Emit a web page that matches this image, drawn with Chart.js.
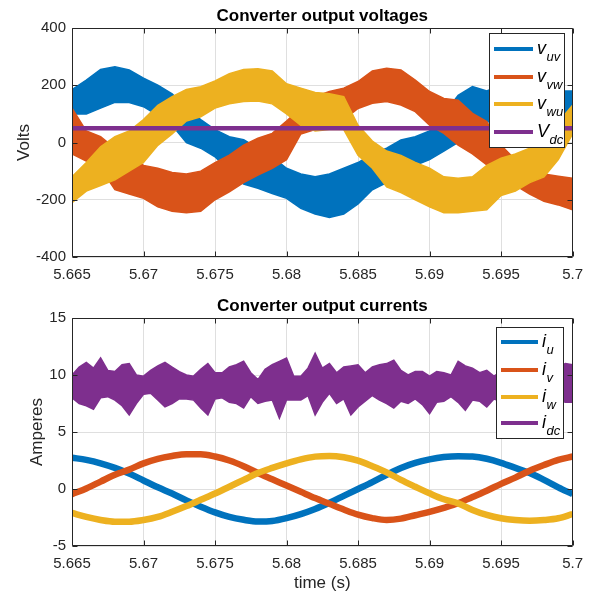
<!DOCTYPE html>
<html><head><meta charset="utf-8">
<script src="https://cdn.jsdelivr.net/npm/chart.js@4/dist/chart.umd.min.js"></script>
<style>
html,body{margin:0;padding:0;background:#fff;}
#wrap{position:relative;width:592px;height:593px;}
.c{position:absolute;left:0;width:592px;}
#c1{top:0;height:296px;}
#c2{top:296px;height:297px;}
</style></head><body>
<div id="wrap"><div class="c" id="c1"><canvas id="top"></canvas></div><div class="c" id="c2"><canvas id="bot"></canvas></div></div>
<script>
// ---- data (time origin 5.665 s) ----
const T0 = 5.665;
const V_STEP = 0.001;   // voltage envelopes sampled every 1 ms
const I_STEP = 0.001;   // phase currents every 1 ms
const IDC_STEP = 0.0005; // dc current envelope every 0.5 ms

const vuvUpper = [185,218,255,265,253,225,200,170,120,80, 45,20,10,-20,-50,-90,-110,-120,-110,-90, -70,-40,-20,9,20,40,100,165,195,180, 200,195,190,185,180,180];
const vuvLower = [100,100,120,140,140,125,95,60,0,-20, -50,-100,-145,-160,-178,-195,-230,-250,-262,-250, -215,-165,-140,-100,-80,-60,-30,0,40,70, 90,95,95,90,70,60];
const vvwUpper = [120,40,20,-20,-50,-80,-90,-105,-110,-100, -70,-44,-9,15,32,75,120,160,178,190, 213,250,259,253,218,178,154,148,102,73, -10,-60,-90,-110,-118,-125];
const vvwLower = [-40,-65,-90,-165,-180,-195,-225,-240,-245,-240, -200,-172,-140,-114,-90,-60,30,45,50,80, 119,137,143,131,108,61,32,-9,-40,-78, -100,-150,-180,-205,-218,-235];
const vwuUpper = [-120,-70,-15,20,40,80,130,160,185,195, 215,240,255,258,250,205,190,175,170,160, 60,5,-30,-45,-70,-90,-120,-125,-120,-80, -55,-40,-20,0,70,130];
const vwuLower = [-210,-170,-150,-130,-100,-70,-10,30,75,90, 120,135,143,145,135,100,60,40,45,45, -45,-90,-155,-175,-200,-225,-245,-245,-240,-235, -185,-170,-140,-120,-60,30];
const vdcTimes = [5.665, 5.7];
const vdcValues = [50, 50];

const iu = [2.75,2.55,2.25,1.85,1.35,0.75,0.15,-0.4,-1.0,-1.55, -2.05,-2.45,-2.7,-2.85,-2.8,-2.55,-2.2,-1.75,-1.2,-0.6, 0.0,0.6,1.25,1.85,2.3,2.6,2.8,2.88,2.85,2.65, 2.3,1.85,1.4,0.8,0.15,-0.45];
const iv = [-0.45,0.05,0.65,1.25,1.7,2.25,2.65,2.9,3.05,3.05, 2.85,2.5,2.0,1.4,0.85,0.3,-0.25,-0.8,-1.3,-1.8, -2.25,-2.55,-2.72,-2.6,-2.3,-2.0,-1.65,-1.25,-0.7,-0.15, 0.45,1.0,1.6,2.1,2.55,2.85];
const iw = [-2.1,-2.45,-2.72,-2.87,-2.87,-2.72,-2.45,-2.0,-1.5,-0.95, -0.4,0.2,0.8,1.4,1.85,2.25,2.6,2.84,2.9,2.78, 2.48,2.0,1.46,0.8,0.2,-0.38,-0.9,-1.26,-1.84,-2.28, -2.57,-2.72,-2.78,-2.72,-2.57,-2.2];
const idcUpper = [10.0,10.7,11.1,10.6,11.5,10.4,10.3,10.9,11.0,10.0, 9.9,10.4,10.8,11.1,10.7,10.3,10.0,9.9,10.5,11.0,
  10.2,10.2,10.7,10.9,11.2,10.2,9.6,10.5,10.9,11.2, 11.5,9.9,9.9,10.6,11.9,10.6,11.0,10.2,10.7,10.8,
  10.9,10.2,10.7,10.9,11.0,11.3,10.4,10.0,10.3,10.3, 9.9,10.3,10.2,10.0,11.2,10.8,10.6,10.2,10.4,9.9,
  10.3,10.6,10.4,10.8,10.5,10.2,10.6,10.4,10.7,11.0, 10.9];
const idcLower = [8.0,7.5,7.3,7.0,8.0,8.1,7.8,7.3,6.5,7.5, 8.3,8.4,7.8,7.2,7.5,7.9,7.9,7.8,7.1,6.5,
  7.9,8.0,7.6,7.5,7.1,8.1,7.5,7.7,7.8,6.2, 7.8,7.8,7.8,8.2,6.5,7.6,8.4,7.5,7.9,6.5,
  7.2,7.7,8.2,7.8,7.5,7.1,7.7,7.5,7.9,7.4, 6.6,7.6,7.7,8.1,7.6,6.9,7.8,7.7,7.2,7.9,
  7.7,7.5,7.8,7.4,7.7,7.9,7.5,7.6,7.8,7.6, 7.6];

const xTicks = [5.665,5.67,5.675,5.68,5.685,5.69,5.695,5.7];
const xTickLabels = ['5.665','5.67','5.675','5.68','5.685','5.69','5.695','5.7'];
const vTicks = [-400,-200,0,200,400];
const iTicks = [-5,0,5,10,15];

const COL = {blue:'#0072BD', orange:'#D95319', yellow:'#EDB120', purple:'#7E2F8E'};
const FONT = '"Liberation Sans", Arial, Helvetica, sans-serif';
const INK = '#262626';

Chart.defaults.font.family = FONT;
Chart.defaults.color = INK;

function pts(arr, step) { return arr.map((v, i) => ({x: T0 + i * step, y: v})); }
function band(upper, lower, step, color, order) {
  return [
    {data: pts(upper, step), borderColor: color, backgroundColor: color, borderWidth: 1.5, pointRadius: 0, fill: '+1', order, tension: 0},
    {data: pts(lower, step), borderColor: color, backgroundColor: color, borderWidth: 1.5, pointRadius: 0, fill: false, order, tension: 0}
  ];
}

function xScale(h) {
  return {
    type: 'linear', min: 5.665, max: 5.7,
    afterBuildTicks: s => { s.ticks = xTicks.map(v => ({value: v})); },
    afterFit: s => { s.height = h; },
    ticks: {callback: (v, i) => xTickLabels[i], font: {size: 15}, color: INK, padding: 9, maxRotation: 0, autoSkip: false},
    grid: {color: '#dfdfdf', drawTicks: false, lineWidth: 1},
    border: {display: false}
  };
}
function yScale(min, max, ticks) {
  return {
    type: 'linear', min, max,
    afterBuildTicks: s => { s.ticks = ticks.map(v => ({value: v})); },
    afterFit: s => { s.width = 72; },
    ticks: {callback: v => String(v), font: {size: 15}, color: INK, padding: 6},
    grid: {color: '#dfdfdf', drawTicks: false, lineWidth: 1},
    border: {display: false}
  };
}

function matlabPlugin(cfg) {
  return {
    id: 'matlab_' + cfg.name,
    afterDatasetsDraw(chart) {
      const {ctx, chartArea: a, scales: {x, y}} = chart;
      ctx.save();
      ctx.strokeStyle = INK; ctx.lineWidth = 1;
      const L = Math.round(a.left) + 0.5, R = Math.round(a.right) - 0.5, T = Math.round(a.top) + 0.5, B = Math.round(a.bottom) - 0.5;
      ctx.beginPath(); ctx.rect(L, T, R - L, B - T); ctx.stroke();
      const tl = 5;
      ctx.beginPath();
      x.ticks.forEach(t => { const p = Math.round(x.getPixelForValue(t.value)) + 0.5; ctx.moveTo(p, B); ctx.lineTo(p, B - tl); ctx.moveTo(p, T); ctx.lineTo(p, T + tl); });
      y.ticks.forEach(t => { const p = Math.round(y.getPixelForValue(t.value)) + 0.5; ctx.moveTo(L, p); ctx.lineTo(L + tl, p); ctx.moveTo(R, p); ctx.lineTo(R - tl, p); });
      ctx.stroke();
      ctx.restore();
    },
    afterDraw(chart) {
      const {ctx, chartArea: a} = chart;
      ctx.save();
      // title
      ctx.fillStyle = '#000';
      ctx.font = 'bold 17px ' + FONT;
      ctx.textAlign = 'center'; ctx.textBaseline = 'alphabetic';
      ctx.fillText(cfg.title, (a.left + a.right) / 2, cfg.titleY);
      // y label
      ctx.fillStyle = INK;
      ctx.font = '17px ' + FONT;
      ctx.save();
      ctx.translate(cfg.ylabelX, (a.top + a.bottom) / 2);
      ctx.rotate(-Math.PI / 2);
      ctx.fillText(cfg.ylabel, 0, 0);
      ctx.restore();
      if (cfg.xlabel) ctx.fillText(cfg.xlabel, (a.left + a.right) / 2, cfg.xlabelY);
      // legend
      const lg = cfg.legend;
      ctx.fillStyle = '#fff';
      ctx.fillRect(lg.x0, lg.y0, lg.x1 - lg.x0, lg.y1 - lg.y0);
      ctx.strokeStyle = INK; ctx.lineWidth = 1;
      ctx.strokeRect(lg.x0 + 0.5, lg.y0 + 0.5, lg.x1 - lg.x0 - 1, lg.y1 - lg.y0 - 1);
      ctx.textAlign = 'left';
      lg.items.forEach((it, i) => {
        const yy = lg.rows[i];
        ctx.strokeStyle = it.color; ctx.lineWidth = 4;
        ctx.beginPath(); ctx.moveTo(lg.lx0, yy); ctx.lineTo(lg.lx1, yy); ctx.stroke();
        ctx.fillStyle = '#000';
        ctx.font = 'italic 18px ' + FONT;
        ctx.fillText(it.main, lg.tx, yy + 4.5);
        const w = ctx.measureText(it.main).width;
        ctx.font = 'italic 13px ' + FONT;
        ctx.fillText(it.sub, lg.tx + w + 0.5, yy + 12);
      });
      ctx.restore();
    }
  };
}

const topChart = new Chart(document.getElementById('top'), {
  type: 'line',
  data: {datasets: [
    ...band(vuvUpper, vuvLower, V_STEP, COL.blue, 4),
    ...band(vvwUpper, vvwLower, V_STEP, COL.orange, 3),
    ...band(vwuUpper, vwuLower, V_STEP, COL.yellow, 2),
    {data: vdcTimes.map((t, i) => ({x: t, y: vdcValues[i]})), borderColor: COL.purple, borderWidth: 4.5, pointRadius: 0, fill: false, order: 1}
  ]},
  options: {
    responsive: true, maintainAspectRatio: false, animation: false, devicePixelRatio: 1,
    layout: {padding: {top: 28, left: 0, right: 19, bottom: 0}},
    plugins: {legend: {display: false}, tooltip: {enabled: false}},
    scales: {x: xScale(39), y: yScale(-400, 400, vTicks)}
  },
  plugins: [matlabPlugin({
    name: 'top', title: 'Converter output voltages', titleY: 21, ylabel: 'Volts', ylabelX: 29,
    legend: {x0: 489, x1: 565, y0: 33, y1: 148, lx0: 494, lx1: 533, tx: 537, rows: [49, 77, 104, 132],
      items: [{color: COL.blue, main: 'v', sub: 'uv'}, {color: COL.orange, main: 'v', sub: 'vw'}, {color: COL.yellow, main: 'v', sub: 'wu'}, {color: COL.purple, main: 'V', sub: 'dc'}]}
  })]
});

const botChart = new Chart(document.getElementById('bot'), {
  type: 'line',
  data: {datasets: [
    {data: pts(iu, I_STEP), borderColor: COL.blue, borderWidth: 6.5, pointRadius: 0, fill: false, order: 5, cubicInterpolationMode: 'monotone'},
    {data: pts(iv, I_STEP), borderColor: COL.orange, borderWidth: 6.5, pointRadius: 0, fill: false, order: 4, cubicInterpolationMode: 'monotone'},
    {data: pts(iw, I_STEP), borderColor: COL.yellow, borderWidth: 6.5, pointRadius: 0, fill: false, order: 3, cubicInterpolationMode: 'monotone'},
    ...band(idcUpper, idcLower, IDC_STEP, COL.purple, 1)
  ]},
  options: {
    responsive: true, maintainAspectRatio: false, animation: false, devicePixelRatio: 1,
    layout: {padding: {top: 22, left: 0, right: 19, bottom: 0}},
    plugins: {legend: {display: false}, tooltip: {enabled: false}},
    scales: {x: xScale(47), y: yScale(-5, 15, iTicks)}
  },
  plugins: [matlabPlugin({
    name: 'bot', title: 'Converter output currents', titleY: 15, ylabel: 'Amperes', ylabelX: 42, xlabel: 'time (s)', xlabelY: 292,
    legend: {x0: 496, x1: 564, y0: 31, y1: 143, lx0: 501, lx1: 538, tx: 542, rows: [46, 74, 101, 127],
      items: [{color: COL.blue, main: 'i', sub: 'u'}, {color: COL.orange, main: 'i', sub: 'v'}, {color: COL.yellow, main: 'i', sub: 'w'}, {color: COL.purple, main: 'i', sub: 'dc'}]}
  })]
});
</script>
</body></html>
